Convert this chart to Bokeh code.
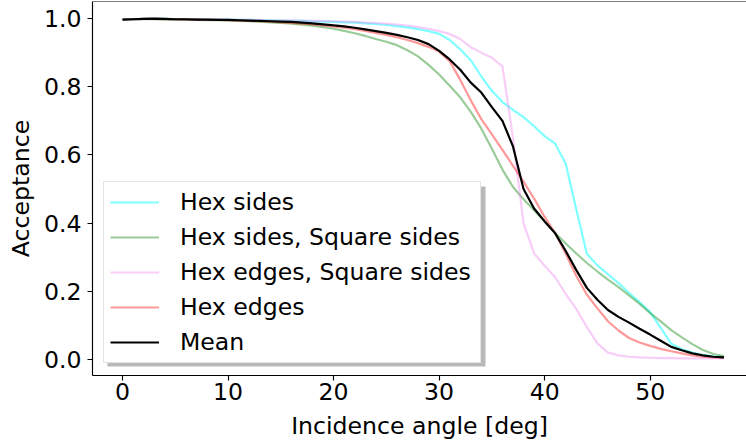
from bokeh.plotting import figure
from bokeh.models import (Range1d, FixedTicker, PrintfTickFormatter, Legend,
                          LegendItem, Span, BoxAnnotation)
from bokeh.embed import file_html
from bokeh.resources import INLINE

# Incidence angle samples [deg]
angle = list(range(58))

hex_sides = [
    0.998, 0.998, 0.999, 0.999, 0.999, 0.998, 0.998, 0.998, 0.997, 0.997,
    0.997, 0.996, 0.996, 0.995, 0.995, 0.994, 0.993, 0.993, 0.992, 0.991,
    0.990, 0.989, 0.988, 0.986, 0.984, 0.981, 0.978, 0.974, 0.969, 0.963,
    0.955, 0.937, 0.910, 0.878, 0.830, 0.788, 0.755, 0.732, 0.711, 0.684,
    0.655, 0.633, 0.574, 0.440, 0.310, 0.276, 0.250, 0.224, 0.195, 0.168,
    0.139, 0.093, 0.046, 0.030, 0.020, 0.013, 0.009, 0.007,
]

hex_sides_square_sides = [
    0.997, 0.998, 0.998, 0.998, 0.997, 0.997, 0.996, 0.996, 0.995, 0.995,
    0.994, 0.993, 0.992, 0.991, 0.989, 0.987, 0.985, 0.982, 0.979, 0.975,
    0.970, 0.964, 0.957, 0.949, 0.940, 0.932, 0.922, 0.907, 0.889, 0.864,
    0.836, 0.803, 0.769, 0.726, 0.677, 0.618, 0.557, 0.506, 0.470, 0.438,
    0.405, 0.371, 0.340, 0.311, 0.283, 0.258, 0.234, 0.212, 0.188, 0.163,
    0.136, 0.112, 0.086, 0.065, 0.045, 0.028, 0.016, 0.010,
]

hex_edges_square_sides = [
    0.998, 0.998, 0.999, 0.999, 0.999, 0.998, 0.998, 0.998, 0.997, 0.997,
    0.997, 0.996, 0.996, 0.996, 0.995, 0.995, 0.994, 0.994, 0.993, 0.993,
    0.992, 0.991, 0.990, 0.988, 0.987, 0.985, 0.982, 0.979, 0.975, 0.970,
    0.963, 0.955, 0.940, 0.916, 0.900, 0.885, 0.860, 0.650, 0.399, 0.311,
    0.275, 0.241, 0.192, 0.148, 0.095, 0.047, 0.020, 0.012, 0.008, 0.006,
    0.005, 0.004, 0.004, 0.003, 0.003, 0.003, 0.003, 0.003,
]

hex_edges = [
    0.998, 0.998, 0.999, 0.999, 0.998, 0.998, 0.997, 0.997, 0.996, 0.996,
    0.995, 0.994, 0.993, 0.992, 0.991, 0.989, 0.987, 0.985, 0.983, 0.980,
    0.977, 0.973, 0.969, 0.964, 0.958, 0.952, 0.945, 0.937, 0.928, 0.917,
    0.903, 0.875, 0.820, 0.760, 0.705, 0.660, 0.615, 0.568, 0.522, 0.472,
    0.418, 0.370, 0.310, 0.245, 0.190, 0.150, 0.112, 0.085, 0.063, 0.050,
    0.040, 0.031, 0.024, 0.018, 0.012, 0.008, 0.006, 0.005,
]

mean = [
    0.997, 0.998, 0.999, 1.000, 0.999, 0.998, 0.998, 0.997, 0.997, 0.996,
    0.996, 0.995, 0.994, 0.993, 0.992, 0.991, 0.990, 0.988, 0.986, 0.983,
    0.980, 0.977, 0.973, 0.968, 0.963, 0.958, 0.952, 0.945, 0.937, 0.925,
    0.905, 0.880, 0.850, 0.812, 0.783, 0.740, 0.700, 0.625, 0.500, 0.443,
    0.405, 0.370, 0.318, 0.262, 0.210, 0.175, 0.145, 0.125, 0.108, 0.090,
    0.073, 0.055, 0.037, 0.027, 0.018, 0.012, 0.008, 0.006,
]

x_ticks = [0, 10, 20, 30, 40, 50]
y_ticks = [0.0, 0.2, 0.4, 0.6, 0.8, 1.0]

FONT = "DejaVu Sans"
FS = "23.6px"

p = figure(
    width=746, height=448,
    x_range=Range1d(-2.85, 59.13), y_range=Range1d(-0.047, 1.05),
    output_backend="svg", toolbar_location=None,
    min_border_left=92, min_border_right=0, min_border_top=1, min_border_bottom=73,
    background_fill_color="white", border_fill_color="white",
)
p.outline_line_color = None
p.grid.visible = False

for ax in (p.xaxis[0], p.yaxis[0]):
    ax.axis_line_color = "black"
    ax.axis_line_width = 1.15
    ax.major_tick_line_color = "black"
    ax.major_tick_line_width = 1.15
    ax.major_tick_in = 0
    ax.major_tick_out = 5
    ax.minor_tick_in = 0
    ax.minor_tick_out = 0
    ax.major_label_text_font = FONT
    ax.major_label_text_font_size = FS
    ax.major_label_text_color = "black"
    ax.axis_label_text_font = FONT
    ax.axis_label_text_font_size = FS
    ax.axis_label_text_font_style = "normal"
    ax.axis_label_text_color = "black"

p.xaxis.ticker = FixedTicker(ticks=x_ticks)
p.yaxis.ticker = FixedTicker(ticks=y_ticks)
p.yaxis.formatter = PrintfTickFormatter(format="%.1f")
p.xaxis.axis_label = "Incidence angle [deg]"
p.yaxis.axis_label = "Acceptance"
p.xaxis.major_label_standoff = 2
p.xaxis.axis_label_standoff = 9
p.yaxis.major_label_standoff = 6
p.yaxis.axis_label_standoff = 6

# top spine
p.add_layout(Span(location=1.05, dimension="width", line_color="black", line_width=1.15))

series = [
    ("Hex sides", hex_sides, "#00ffff", 0.5),
    ("Hex sides, Square sides", hex_sides_square_sides, "#008000", 0.4),
    ("Hex edges, Square sides", hex_edges_square_sides, "#ee82ee", 0.4),
    ("Hex edges", hex_edges, "#ff0000", 0.4),
    ("Mean", mean, "#000000", 1.0),
]

items = []
for label, ys, color, alpha in series:
    r = p.line(angle, ys, line_color=color, line_alpha=alpha, line_width=2.2)
    items.append(LegendItem(label=label, renderers=[r]))

# legend drop shadow
p.add_layout(BoxAnnotation(
    left=15, right=15 + 378, bottom=9, top=9 + 180,
    left_units="screen", right_units="screen", top_units="screen", bottom_units="screen",
    fill_color="#808080", fill_alpha=0.55, line_color=None,
))

legend = Legend(
    items=items, location=(11, 12),
    label_text_font=FONT, label_text_font_size=FS, label_text_color="black",
    glyph_width=49, glyph_height=28, label_height=28, label_width=294,
    spacing=7, padding=6, label_standoff=21, margin=0,
    border_line_color="#cccccc", border_line_width=1.2,
    background_fill_color="white", background_fill_alpha=1.0,
)
p.add_layout(legend)

open("out.html", "w").write(file_html(p, INLINE))
